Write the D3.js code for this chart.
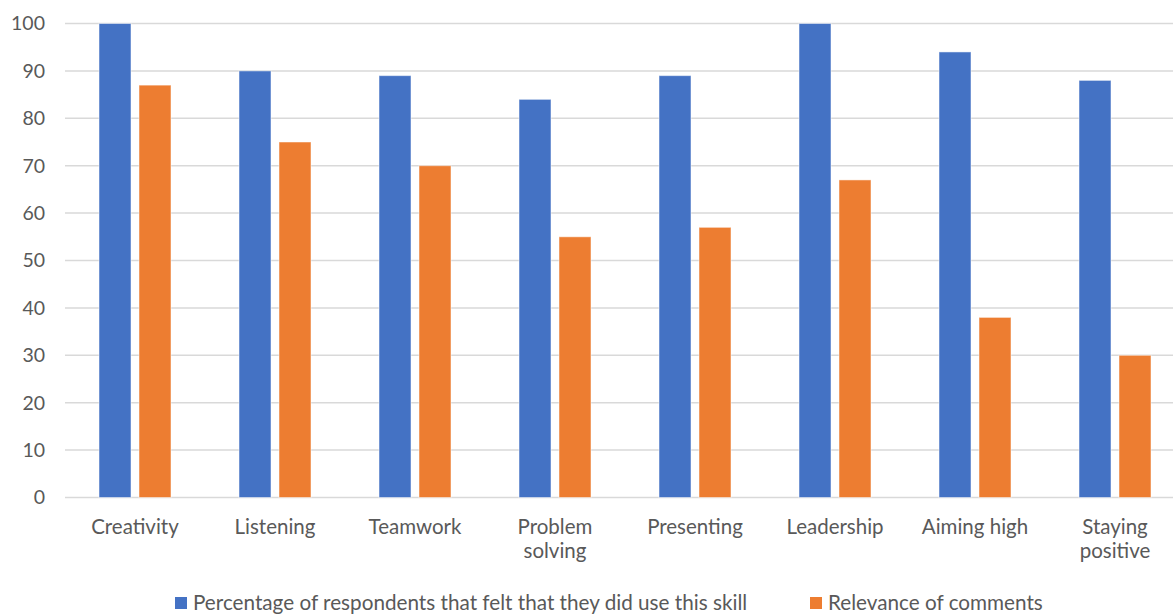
<!DOCTYPE html>
<html>
<head>
<meta charset="utf-8">
<script src="https://cdn.jsdelivr.net/npm/d3@7"></script>
<style>
  body { margin: 0; background: #fff; }
  text { font-family: Lato, "Open Sans", "Liberation Sans", sans-serif; fill: #595959; }
</style>
</head>
<body>
<div id="main"></div>
<script>
const categories = ["Creativity", "Listening", "Teamwork", "Problem solving", "Presenting", "Leadership", "Aiming high", "Staying positive"];
const seriesNames = ["Percentage of respondents that felt that they did use this skill", "Relevance of comments"];
const usedSkill = [100, 90, 89, 84, 89, 100, 94, 88];
const relevance = [87, 75, 70, 55, 57, 67, 38, 30];
const yTicks = [0, 10, 20, 30, 40, 50, 60, 70, 80, 90, 100];
const colors = ["#4472C4", "#ED7D31"];

const width = 1173, height = 615;
const svg = d3.select('#main').append('svg')
    .attr('width', width)
    .attr('height', height);

const x0 = d3.scaleBand().domain(categories).range([65, 1185]);
const x1 = d3.scaleBand().domain([0, 1]).range([34, 106]).paddingInner(0.2);
const y = d3.scaleLinear().domain([0, 100]).range([497.5, 23.5]);

// gridlines
svg.append('g')
    .selectAll('line')
    .data(yTicks)
    .enter()
    .append('line')
    .attr('x1', 65)
    .attr('x2', width)
    .attr('y1', d => y(d))
    .attr('y2', d => y(d))
    .attr('stroke', '#d9d9d9')
    .attr('stroke-width', 1.5);

// y labels
svg.append('g')
    .selectAll('text')
    .data(yTicks)
    .enter()
    .append('text')
    .attr('x', 45)
    .attr('y', d => y(d))
    .attr('dy', '0.35em')
    .attr('text-anchor', 'end')
    .style('font-size', '19.5px')
    .text(d => d);

// bars
const rows = categories.map((c, i) => ({ cat: c, vals: [usedSkill[i], relevance[i]] }));
const groups = svg.append('g')
    .selectAll('g')
    .data(rows)
    .enter()
    .append('g')
    .attr('transform', d => `translate(${x0(d.cat)},0)`);

groups.selectAll('rect')
    .data(d => d.vals.map((v, k) => ({ k: k, v: v })))
    .enter()
    .append('rect')
    .attr('x', d => x1(d.k))
    .attr('width', x1.bandwidth())
    .attr('y', d => y(d.v))
    .attr('height', d => y(0) - y(d.v))
    .attr('fill', d => colors[d.k])
    .attr('stroke', '#fff')
    .attr('stroke-opacity', 0.5)
    .attr('stroke-width', 1);

// category labels
const catLabels = svg.append('g')
    .selectAll('text')
    .data(categories)
    .enter()
    .append('text')
    .attr('x', d => x0(d) + x0.bandwidth() / 2)
    .attr('y', 534)
    .attr('text-anchor', 'middle')
    .style('font-size', '20.5px');

catLabels.each(function(d) {
    const words = d.split(' ');
    const lines = (d === 'Problem solving' || d === 'Staying positive') ? words : [d];
    d3.select(this).selectAll('tspan')
        .data(lines)
        .enter()
        .append('tspan')
        .attr('x', x0(d) + x0.bandwidth() / 2)
        .attr('dy', (l, i) => i === 0 ? 0 : '1.17em')
        .text(l => l);
});

// legend
const legendX = [175, 810];
const legend = svg.append('g')
    .selectAll('g')
    .data(seriesNames)
    .enter()
    .append('g')
    .attr('transform', (d, i) => `translate(${legendX[i]},597)`);

legend.append('rect')
    .attr('width', 12)
    .attr('height', 12)
    .attr('fill', (d, i) => colors[i]);

legend.append('text')
    .attr('x', 18)
    .attr('y', 6)
    .attr('dy', '0.35em')
    .style('font-size', '20.7px')
    .text(d => d);
</script>
</body>
</html>
